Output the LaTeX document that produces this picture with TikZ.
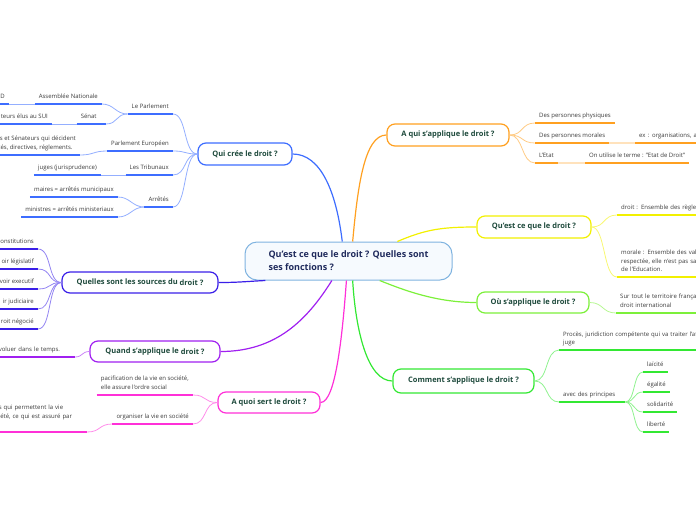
\documentclass[tikz,border=0pt]{standalone}
\usepackage{fontspec}
\setmainfont{Open Sans}
\usetikzlibrary{calc}

\definecolor{ctrline}{HTML}{7FB3E0}
\definecolor{ctrfill}{HTML}{F6FAFE}
\definecolor{ctrtext}{HTML}{1F2A5C}
\definecolor{maintext}{HTML}{1E4A3C}
\definecolor{leaftext}{HTML}{3A3A3A}
\definecolor{creecol}{HTML}{3D6DFF}
\definecolor{sourcecol}{HTML}{3A1FE8}
\definecolor{quandcol}{HTML}{A020F0}
\definecolor{sertcol}{HTML}{FF30D8}
\definecolor{quicol}{HTML}{FFA020}
\definecolor{questcol}{HTML}{F2F000}
\definecolor{oucol}{HTML}{7CF03A}
\definecolor{commcol}{HTML}{33E833}

\tikzset{
  topic/.style={draw=#1, line width=1.2pt, fill=white, rounded corners=8pt,
    minimum height=21pt, inner sep=3pt, text=maintext,
    font=\fontsize{7.5}{9}\selectfont\bfseries},
  leaf/.style={inner xsep=4pt, inner ysep=3.5pt, text depth=2pt, align=left,
    text=leaftext, font=\fontsize{6}{8.5}\selectfont},
  lleaf/.style={leaf, anchor=south east},
  rleaf/.style={leaf, anchor=south west},
  uline/.style={line width=1.5pt, #1},
  twig/.style={line width=0.8pt, #1!55},
  branch/.style={line width=1.2pt, #1}
}

\begin{document}
\begin{tikzpicture}[x=1pt, y=-1pt]
  \useasboundingbox (0,0) rectangle (696,520);
  \clip (0,0) rectangle (696,520);

  \node[draw=ctrline, fill=ctrfill, line width=1pt, rounded corners=12pt,
    minimum width=207pt, minimum height=38pt, align=left, text=ctrtext,
    font=\fontsize{9}{13}\selectfont\bfseries] (ctr) at (348.5,261)
    {Qu'est ce que le droit ? Quelles sont\\ses fonctions ?};

  \node[topic=creecol, minimum width=94pt, minimum height=22pt] (cree) at (245,154) {Qui crée le droit ?};
  \node[topic=sourcecol, minimum width=156pt] (sources) at (140,282.5) {Quelles sont les sources du \raisebox{-1.2pt}{droit ?}};
  \node[topic=quandcol, minimum width=130pt] (quand) at (155,351.5) {Quand s'applique le \raisebox{-1.2pt}{droit ?}};
  \node[topic=sertcol, minimum width=102pt] (sert) at (269,402.5) {A quoi sert le droit ?};
  \node[topic=quicol, minimum width=122pt, minimum height=22pt] (aqui) at (448,135) {A qui s'applique le droit ?};
  \node[topic=questcol, minimum width=114pt, minimum height=22pt] (quest) at (534,227) {Qu'est ce que le droit ?};
  \node[topic=oucol, minimum width=112pt] (ou) at (533,302.5) {Où s'applique le droit ?};
  \node[topic=commcol, minimum width=141pt, minimum height=24pt] (comment) at (463.5,381) {Comment s'applique le droit ?};

  \draw[branch=creecol] (cree.east) .. controls +(28,0) and +(-6,-50) .. ($(ctr.north west)!0.47!(ctr.north east)$);
  \draw[branch=quicol] (aqui.west) .. controls +(-22,0) and +(5,-55) .. ($(ctr.north west)!0.52!(ctr.north east)$);
  \draw[branch=questcol] (quest.west) .. controls +(-35,0) and +(28,-12) .. ($(ctr.north west)!0.735!(ctr.north east)$);
  \draw[branch=oucol] (ou.west) .. controls +(-40,0) and +(25,10) .. ($(ctr.south west)!0.65!(ctr.south east)$);
  \draw[branch=commcol] (comment.west) .. controls +(-25,0) and +(3,50) .. ($(ctr.south west)!0.52!(ctr.south east)$);
  \draw[branch=sertcol] (sert.east) .. controls +(15,0) and +(-4,55) .. ($(ctr.south west)!0.49!(ctr.south east)$);
  \draw[branch=quandcol] (quand.east) .. controls +(55,0) and +(-25,40) .. ($(ctr.south west)!0.42!(ctr.south east)$);
  \draw[branch=sourcecol] (sources.east) .. controls +(20,0) and +(-20,1) .. ($(ctr.south west)!0.1!(ctr.south east)$);

  \node[lleaf] (parl) at (173,114) {Le Parlement};
  \node[lleaf] (assemb) at (102,104) {Assemblée Nationale};
  \node[lleaf] (deputes) at (9,104) {D};
  \node[lleaf, text width=21pt] (senat) at (106,124) {Sénat};
  \node[lleaf] (senateurs) at (52,124) {teurs élus au SUI};
  \node[lleaf] (europe) at (173,151) {Parlement Européen};
  \node[lleaf] (europec) at (80,155) {is et Sénateurs qui décident\\tés, directives, réglements.};
  \node[lleaf] (tribunaux) at (173,175) {Les Tribunaux};
  \node[lleaf] (juges) at (101,175) {juges (jurisprudence)};
  \node[lleaf] (arretes) at (173,207) {Arrêtés};
  \node[lleaf] (maires) at (118,197) {maires = arrêtés municipaux};
  \node[lleaf] (ministres) at (118,217) {ministres = arrêtés ministeriaux};

  \node[lleaf] (constit) at (38,249) {onstitutions};
  \node[lleaf] (legis) at (38,269) {oir législatif};
  \node[lleaf] (exec) at (38,289) {voir executif};
  \node[lleaf] (judic) at (38,309) {ir judiciaire};
  \node[lleaf] (negoc) at (38,329) {roit négocié};

  \node[lleaf, text width=72pt] (temps) at (75,357) {voluer dans le temps.};

  \node[lleaf] (pacif) at (193,395) {pacification de la vie en société,\\elle assure l'ordre social};
  \node[lleaf] (organ) at (193,424) {organiser la vie en société};
  \node[lleaf, text width=84pt, text depth=18.5pt] (regles) at (87,432) {s qui permettent la vie\\iété, ce qui est assuré par};

  \node[rleaf] (physiques) at (535,123) {Des personnes physiques};
  \node[rleaf] (morales) at (535,143) {Des personnes morales};
  \node[rleaf, text width=100pt] (exemple) at (635,143) {ex : organisations, a};
  \node[rleaf] (etat) at (535,163) {L'Etat};
  \node[rleaf] (etatdroit) at (585,163) {On utilise le terme : "Etat de Droit"};

  \node[rleaf, text width=150pt] (definition) at (617,215) {droit : Ensemble des règles};
  \node[rleaf, text width=150pt, text depth=18.5pt] (morale) at (617,277) {morale : Ensemble des val\\respectée, elle n'est pas sa\\de l'Education.};

  \node[rleaf, text width=150pt, text depth=10.5pt] (territoire) at (616,313) {Sur tout le territoire françai\\droit international};

  \node[rleaf, text width=150pt, text depth=10pt] (proces) at (559,350) {Procès, juridiction compétente qui va traiter l'af\\juge};
  \node[rleaf, text width=58pt] (principes) at (559,402) {avec des principes};
  \node[rleaf] (laicite) at (643,372) {laïcité};
  \node[rleaf] (egalite) at (643,392) {égalité};
  \node[rleaf] (solidarite) at (643,412) {solidarité};
  \node[rleaf] (liberte) at (643,432) {liberté};

  \foreach \n in {parl,europe,tribunaux,arretes}
    \draw[twig=creecol] (cree.west) .. controls +(-14,0) and +(14,0) .. (\n.south east);
  \draw[twig=creecol] (parl.south west) .. controls +(-12,0) and +(12,0) .. (assemb.south east);
  \draw[twig=creecol] (parl.south west) .. controls +(-12,0) and +(12,0) .. (senat.south east);
  \draw[twig=creecol] (assemb.south west) -- (deputes.south east);
  \draw[twig=creecol] (senat.south west) -- (senateurs.south east);
  \draw[twig=creecol] (europe.south west) .. controls +(-14,0) and +(14,0) .. (europec.south east);
  \draw[twig=creecol] (tribunaux.south west) -- (juges.south east);
  \draw[twig=creecol] (arretes.south west) .. controls +(-12,0) and +(12,0) .. (maires.south east);
  \draw[twig=creecol] (arretes.south west) .. controls +(-12,0) and +(12,0) .. (ministres.south east);
  \foreach \n in {parl,assemb,deputes,senat,senateurs,europe,europec,tribunaux,juges,arretes,maires,ministres}
    \draw[uline=creecol] (\n.south west) -- (\n.south east);

  \foreach \n in {constit,legis,exec,judic,negoc} {
    \draw[twig=sourcecol] (sources.west) .. controls +(-14,0) and +(14,0) .. (\n.south east);
    \draw[uline=sourcecol] (\n.south west) -- (\n.south east);
  }

  \draw[twig=quandcol] (quand.west) .. controls +(-8,0) and +(8,0) .. (temps.south east);
  \draw[uline=quandcol] (temps.south west) -- (temps.south east);

  \foreach \n in {pacif,organ}
    \draw[twig=sertcol] (sert.west) .. controls +(-14,0) and +(14,0) .. (\n.south east);
  \draw[twig=sertcol] (organ.south west) .. controls +(-14,0) and +(14,0) .. (regles.south east);
  \foreach \n in {pacif,organ,regles}
    \draw[uline=sertcol] (\n.south west) -- (\n.south east);

  \foreach \n in {physiques,morales,etat}
    \draw[twig=quicol] (aqui.east) .. controls +(14,0) and +(-14,0) .. (\n.south west);
  \draw[uline=quicol!30] (morales.south east) -- (exemple.south west);
  \draw[uline=quicol!30] (etat.south east) -- (etatdroit.south west);
  \foreach \n in {physiques,morales,exemple,etat,etatdroit}
    \draw[uline=quicol] (\n.south west) -- (\n.south east);

  \foreach \n in {definition,morale} {
    \draw[twig=questcol] (quest.east) .. controls +(14,0) and +(-14,0) .. (\n.south west);
    \draw[uline=questcol] (\n.south west) -- (\n.south east);
  }

  \draw[twig=oucol] (ou.east) .. controls +(14,0) and +(-14,0) .. (territoire.south west);
  \draw[uline=oucol] (territoire.south west) -- (territoire.south east);

  \foreach \n in {proces,principes}
    \draw[twig=commcol] (comment.east) .. controls +(14,0) and +(-14,0) .. (\n.south west);
  \foreach \n in {laicite,egalite,solidarite,liberte}
    \draw[twig=commcol] (principes.south east) .. controls +(10,0) and +(-10,0) .. (\n.south west);
  \foreach \n in {proces,principes,laicite,egalite,solidarite,liberte}
    \draw[uline=commcol] (\n.south west) -- (\n.south east);
\end{tikzpicture}
\end{document}
